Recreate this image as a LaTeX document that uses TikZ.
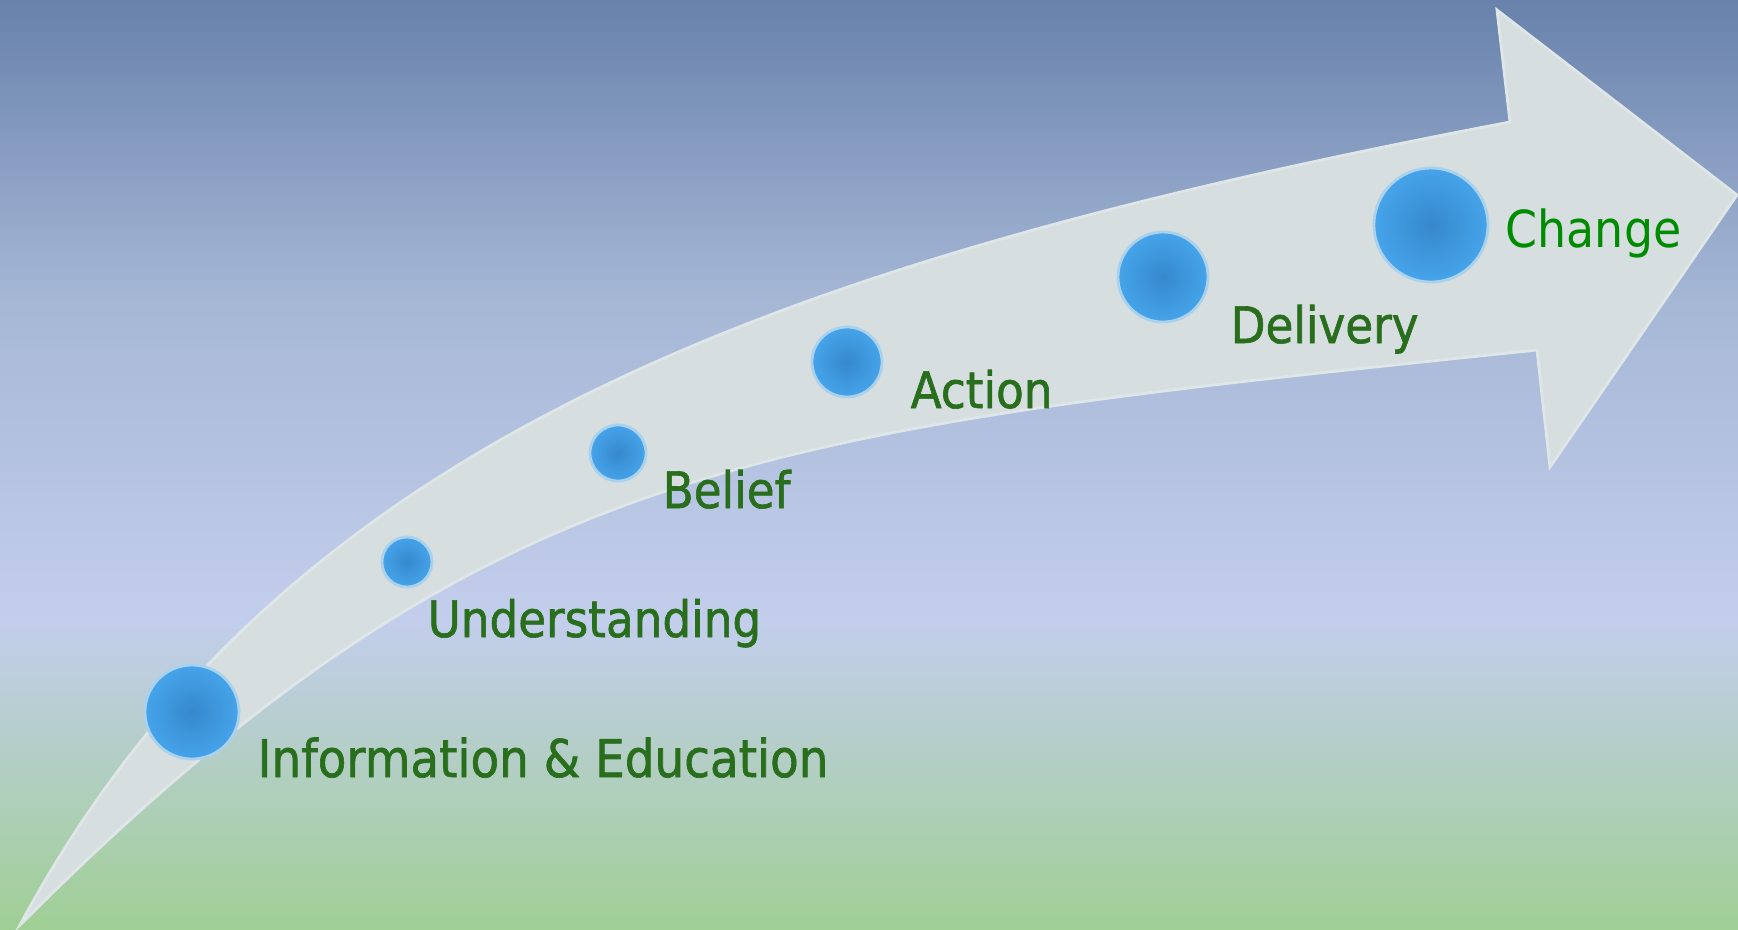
\documentclass[tikz,border=0pt]{standalone}
\usepackage{fontspec}
\setmainfont{DejaVu Sans}[FakeStretch=0.9]
\newfontfamily\lblfont{DejaVu Sans}[FakeStretch=0.9,FakeBold=1.2]
\usepackage{tikz}
\usetikzlibrary{positioning}
\definecolor{skytop}{RGB}{104,130,172}
\definecolor{skyhigh}{RGB}{166,183,214}
\definecolor{skymid}{RGB}{195,206,236}
\definecolor{grass}{RGB}{160,207,149}
\definecolor{bandfill}{RGB}{214,222,224}
\definecolor{bandrim}{RGB}{222,230,232}
\definecolor{ballin}{RGB}{54,136,204}
\definecolor{ballout}{RGB}{70,164,234}
\definecolor{ballrim}{RGB}{170,210,236}
\definecolor{lblgreen}{RGB}{40,110,28}
\definecolor{endgreen}{RGB}{0,140,0}
\newcommand{\lblsize}{\fontsize{14.3}{16}\selectfont}

\begin{document}
\begin{tikzpicture}[x=0.01cm,y=-0.01cm]
            \useasboundingbox (0,0) rectangle (1738,930);

            % sky
            \shade[top color=skytop,bottom color=skyhigh] (0,0) rectangle (1738,301);
            \shade[top color=skyhigh,bottom color=skymid] (0,300) rectangle (1738,621);
            \shade[top color=skymid,bottom color=grass] (0,620) rectangle (1738,930);

            % curved arrow
            \filldraw[fill=bandfill,draw=bandrim,line width=0.8pt]
                (20,925) .. controls (280,440) and (775,262) .. (1510,122)
                -- (1497,10) -- (1737,195) -- (1550,467) -- (1537,350)
                .. controls (761,431) and (490,455) .. (20,925) -- cycle;

            \begin{scope}[shape=circle,inner sep=0pt]
            \tikzstyle{every node}=[draw=ballrim,line width=0.8pt,inner color=ballin,outer color=ballout]

            \node[minimum size=0.94cm] (info) at (192,712) {};
            \node[minimum size=0.50cm] (underst) at (407,562) {};
            \node[minimum size=0.56cm] (belief) at (618,453) {};
            \node[minimum size=0.70cm] (action) at (847,362) {};
            \node[minimum size=0.90cm] (delivery) at (1163,277) {};
            \node[minimum size=1.14cm] (change) at (1431,225) {};
            \end{scope}

            \begin{scope}[anchor=base west,inner sep=0pt]
            \tikzstyle{every node}=[text=lblgreen,font=\lblfont\lblsize]

            \node[font=\lblfont\fontsize{14.8}{16}\selectfont] (info_l) at (257,777) {Information \& Education};
            \node (underst_l) at (427,637) {Understanding};
            \node (belief_l) at (662,508) {Belief};
            \node (action_l) at (910,408) {Action};
            \node (delivery_l) at (1230,343) {Delivery};
            \node[text=endgreen,font=\fontsize{14.5}{16}\selectfont] (change_l) at (1505,247) {Change};
            \end{scope}
        \end{tikzpicture}
\end{document}
